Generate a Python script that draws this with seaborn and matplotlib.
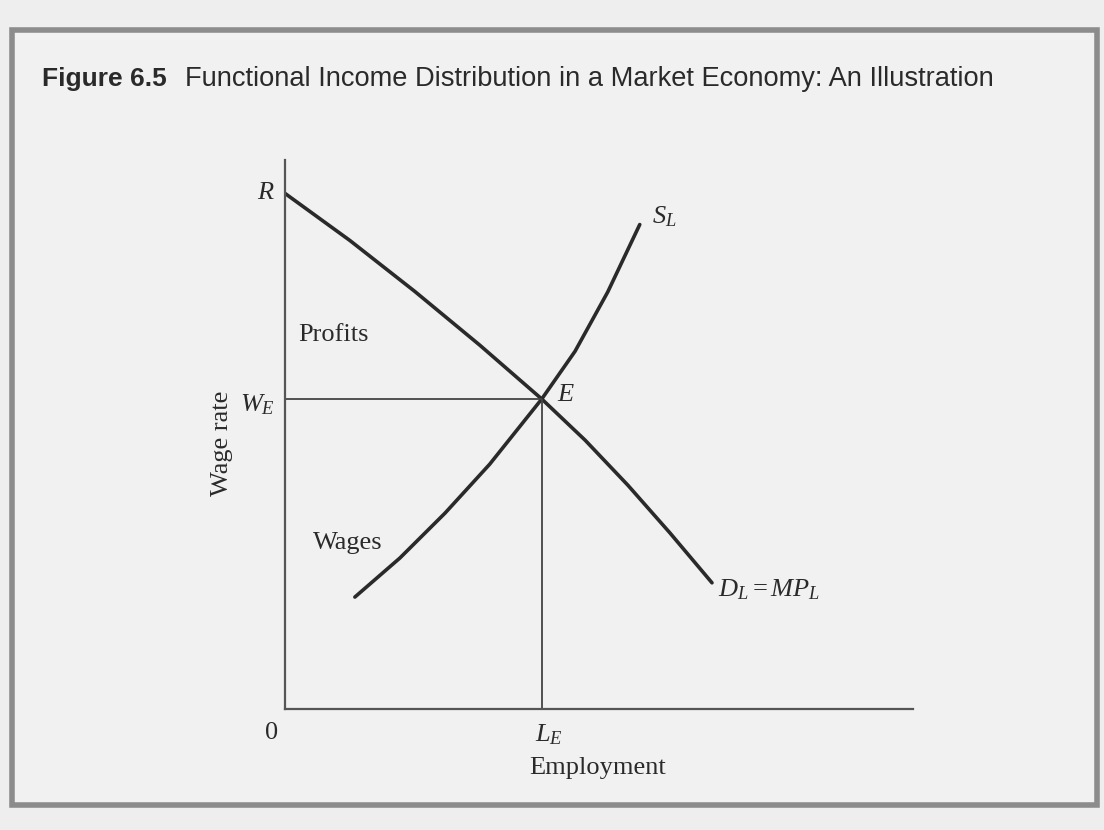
import matplotlib

matplotlib.use("Agg")
import matplotlib.pyplot as plt
import pandas as pd
import seaborn as sns
from matplotlib.patches import Rectangle

# Curves (employment on x, wage rate on y, 0-100 scale)
demand_x = [0.0, 10.35, 20.7, 31.05, 40.9, 47.8, 54.6, 61.3, 68.0]
demand_y = [94.0, 85.4, 76.1, 66.3, 56.5, 49.0, 40.8, 32.1, 23.0]
supply_x = [11.15, 18.3, 25.5, 32.6, 40.9, 46.2, 51.4, 56.5]
supply_y = [20.4, 27.5, 35.7, 44.6, 56.5, 65.2, 76.0, 88.3]

# Equilibrium
wage_e = 56.5
labour_e = 40.9

title_bold = "Figure 6.5"
title_rest = "Functional Income Distribution in a Market Economy: An Illustration"

sns.set_theme(style="white")
plt.rcParams["font.family"] = ["Liberation Serif", "DejaVu Serif"]
plt.rcParams["mathtext.fontset"] = "custom"
plt.rcParams["mathtext.it"] = "Liberation Serif:italic"
plt.rcParams["mathtext.rm"] = "Liberation Serif"
plt.rcParams["lines.solid_joinstyle"] = "round"

bg = "#eeeeee"
ink = "#2a2a2a"

fig = plt.figure(figsize=(11.04, 8.30), dpi=100, facecolor=bg)

# scanned-page frame, kept behind the diagram
frame = Rectangle((0.0109, 0.0301), 0.9828, 0.934, transform=fig.transFigure,
                  fill=True, facecolor="#f1f1f1", edgecolor="#8c8c8c",
                  linewidth=4, zorder=-5)
fig.patches.append(frame)

sans = ["Liberation Sans", "DejaVu Sans"]
fig.text(0.038, 0.905, title_bold, fontsize=19, fontweight="bold", color=ink,
         family=sans, va="center")
fig.text(0.1676, 0.905, title_rest, fontsize=19.6, color=ink,
         family=sans, va="center")

ax = fig.add_axes([0.258, 0.1458, 0.569, 0.661])
ax.set_zorder(2)
ax.set_facecolor("none")
ax.set_xlim(0, 100)
ax.set_ylim(0, 100)
sns.despine(ax=ax)
for side in ("left", "bottom"):
    ax.spines[side].set_color("#555555")
    ax.spines[side].set_linewidth(1.6)
ax.set_xticks([])
ax.set_yticks([])

demand = pd.DataFrame({"x": demand_x, "y": demand_y})
supply = pd.DataFrame({"x": supply_x, "y": supply_y})
sns.lineplot(data=demand, x="x", y="y", ax=ax, color=ink, linewidth=2.6,
             sort=False, estimator=None)
sns.lineplot(data=supply, x="x", y="y", ax=ax, color=ink, linewidth=2.6,
             sort=False, estimator=None)
ax.set_xlabel("")
ax.set_ylabel("")

ax.hlines(wage_e, 0, labour_e, color="#444444", linewidth=1.3)
ax.vlines(labour_e, 0, wage_e, color="#444444", linewidth=1.3)

lab = dict(fontsize=19, color=ink, clip_on=False)
ax.text(-1.6, demand_y[0], "$R$", ha="right", va="center", **lab)
ax.text(-1.6, wage_e - 1.0, "$W_E$", ha="right", va="center", **lab)
ax.text(labour_e + 2.4, wage_e + 0.8, "$E$", ha="left", va="center", **lab)
ax.text(supply_x[-1] + 1.9, supply_y[-1] + 1.5, "$S_L$", ha="left", va="center", **lab)
ax.text(demand_x[-1] + 1.0, demand_y[-1] - 1.2, "$D_L = MP_L$", ha="left", va="center", **lab)
ax.text(2.2, 68.1, "Profits", ha="left", va="center", **lab)
ax.text(4.5, 30.2, "Wages", ha="left", va="center", **lab)
ax.text(-2.1, -4.4, "0", ha="center", va="center", **lab)
ax.text(labour_e + 1.2, -4.6, "$L_E$", ha="center", va="center", **lab)

# axis titles as free text so they sit where the scan has them
ax.text(49.8, -10.8, "Employment", ha="center", va="center", **lab)
ax.text(-10.0, 48.5, "Wage rate", ha="center", va="center", rotation=90, **lab)

fig.savefig("out.png", dpi=100, facecolor=bg)
